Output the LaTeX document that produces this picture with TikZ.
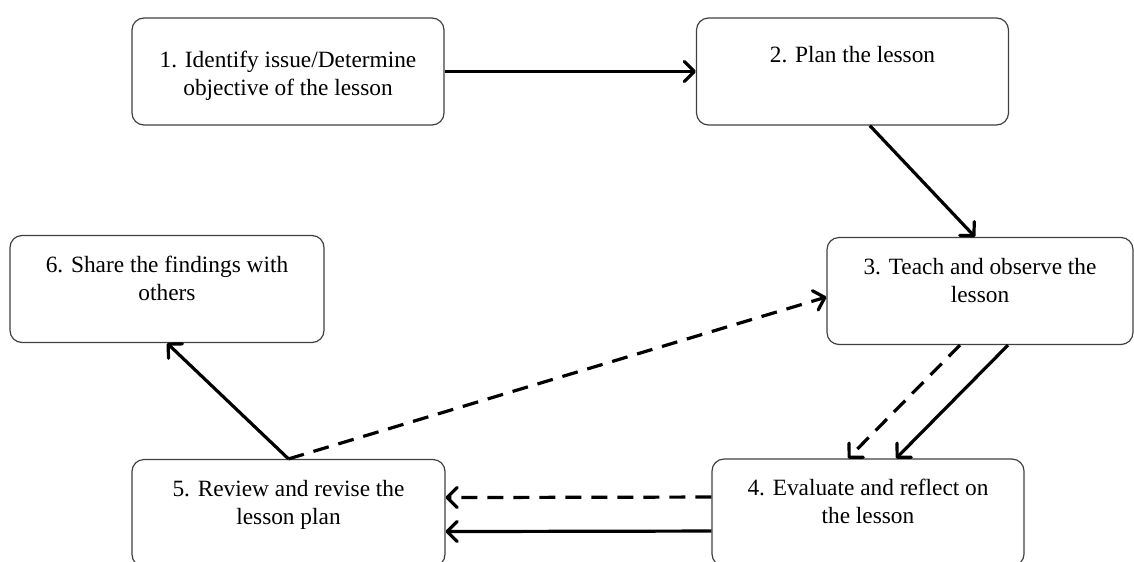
\documentclass[tikz,border=0pt]{standalone}
\usepackage{fontspec}
\setmainfont{Liberation Serif}
\usetikzlibrary{arrows.meta}
\newcommand{\boxtext}[3]{\parbox[c][80.25pt][t]{#1}{\centering\vspace*{#2}\strut #3\par}}

\begin{document}
\begin{tikzpicture}[x = .75pt, y = -.75pt,
  stepbox/.style = {draw = black!75, line width = .9pt, rounded corners = 9pt, inner sep = 0pt, font = \fontsize{17.5}{21}\selectfont},
  link/.style = {-{Straight Barb[length = 7.5pt, width = 15pt, round]}, line width = 2.4pt},
  back/.style = {link, dash pattern = on 12pt off 7.5pt}]
\useasboundingbox (0, 0) rectangle (1134, 561);

\node[stepbox] (s1) at (288, 71.5) {\boxtext{234pt}{22.5pt}{1. Identify issue/Determine\\ objective of the lesson}};
\node[stepbox] (s2) at (852.5, 71.5) {\boxtext{234pt}{19pt}{2. Plan the lesson}};
\node[stepbox] (s3) at (980, 291) {\boxtext{229.5pt}{13pt}{3. Teach and observe the\\ lesson}};
\node[stepbox] (s4) at (868, 512.5) {\boxtext{234pt}{13pt}{4. Evaluate and reflect on\\ the lesson}};
\node[stepbox] (s5) at (288.5, 513) {\boxtext{234.75pt}{13pt}{5. Review and revise the\\ lesson plan}};
\node[stepbox] (s6) at (167, 289) {\boxtext{235.5pt}{13pt}{6. Share the findings with\\ others}};

\draw[link] (s1) -- (s2);
\draw[link] ([xshift = 13pt]s2.south) -- ([xshift = -3.75pt]s3.north);
\draw[back] ([xshift = -15pt]s3.south) -- ([xshift = -15pt]s4.north);
\draw[link] ([xshift = 21pt]s3.south) -- ([xshift = 21pt]s4.north);
\draw[back] ([yshift = 11.6pt]s4.west) -- ([yshift = 11.6pt]s5.east);
\draw[link] ([yshift = -13.9pt]s4.west) -- ([yshift = -13.9pt]s5.east);
\draw[link] (s5.north) -- (s6.south);
\draw[back] (s5.north) -- ([yshift = -4.5pt]s3.west);

\end{tikzpicture}
\end{document}
